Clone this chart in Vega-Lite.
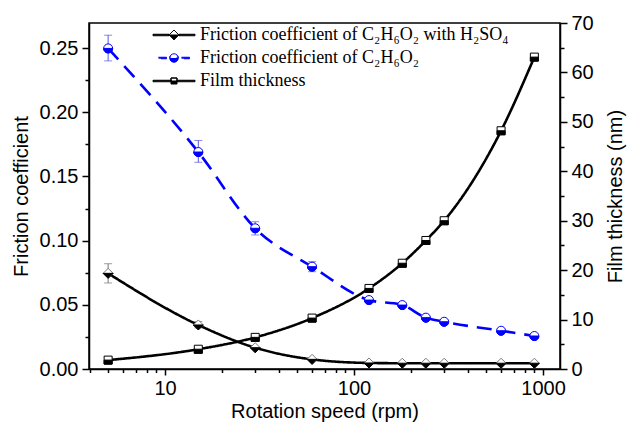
{
  "$schema": "https://vega.github.io/schema/vega-lite/v6.json",
  "width": 471,
  "height": 346,
  "autosize": {"type": "none"},
  "padding": {"left": 89, "top": 23, "right": 71, "bottom": 56},
  "background": "white",
  "config": {
    "view": {"stroke": "black", "strokeWidth": 1.5},
    "axis": {
      "domainColor": "black", "domainWidth": 1.5,
      "tickColor": "black", "tickWidth": 1.5,
      "labelFont": "Liberation Sans", "labelFontSize": 20, "labelColor": "black",
      "titleFont": "Liberation Sans", "titleFontSize": 20, "titleFontWeight": "normal", "titleColor": "black",
      "grid": false, "labelOverlap": false, "labelFlush": false
    }
  },
  "datasets": {
    "fric": [
      {"rpm": 5, "s": "A", "v": 0.0745, "lo": 0.067, "hi": 0.082},
      {"rpm": 15, "s": "A", "v": 0.0343, "lo": 0.032, "hi": 0.037},
      {"rpm": 30, "s": "A", "v": 0.0166},
      {"rpm": 60, "s": "A", "v": 0.0075},
      {"rpm": 120, "s": "A", "v": 0.0047},
      {"rpm": 180, "s": "A", "v": 0.0045},
      {"rpm": 240, "s": "A", "v": 0.0045},
      {"rpm": 300, "s": "A", "v": 0.0045},
      {"rpm": 600, "s": "A", "v": 0.0045},
      {"rpm": 900, "s": "A", "v": 0.0045},
      {"rpm": 5, "s": "B", "v": 0.2497, "lo": 0.240, "hi": 0.260},
      {"rpm": 15, "s": "B", "v": 0.169, "lo": 0.161, "hi": 0.178},
      {"rpm": 30, "s": "B", "v": 0.1096, "lo": 0.1044, "hi": 0.1147},
      {"rpm": 60, "s": "B", "v": 0.0797, "lo": 0.0758, "hi": 0.0836},
      {"rpm": 120, "s": "B", "v": 0.0537},
      {"rpm": 180, "s": "B", "v": 0.0498},
      {"rpm": 240, "s": "B", "v": 0.040},
      {"rpm": 300, "s": "B", "v": 0.0368},
      {"rpm": 600, "s": "B", "v": 0.0298},
      {"rpm": 900, "s": "B", "v": 0.0257}
    ],
    "film": [
      {"rpm": 5, "s": "C", "v": 1.8},
      {"rpm": 15, "s": "C", "v": 4.0},
      {"rpm": 30, "s": "C", "v": 6.4},
      {"rpm": 60, "s": "C", "v": 10.3},
      {"rpm": 120, "s": "C", "v": 16.3},
      {"rpm": 180, "s": "C", "v": 21.4},
      {"rpm": 240, "s": "C", "v": 26.0},
      {"rpm": 300, "s": "C", "v": 30.0},
      {"rpm": 600, "s": "C", "v": 48.2},
      {"rpm": 900, "s": "C", "v": 63.1}
    ]
  },
  "encoding": {
    "x": {
      "field": "rpm", "type": "quantitative",
      "scale": {"type": "log", "domain": [3.96, 1230], "nice": false},
      "axis": {
        "title": "Rotation speed (rpm)",
        "values": [4, 5, 6, 7, 8, 9, 10, 20, 30, 40, 50, 60, 70, 80, 90, 100, 200, 300, 400, 500, 600, 700, 800, 900, 1000],
        "format": "d",
        "labelExpr": "datum.value==10||datum.value==100||datum.value==1000 ? datum.label : ''",
        "tickSize": {"condition": {"test": "datum.value==10||datum.value==100||datum.value==1000", "value": 6}, "value": 3.5},
        "labelPadding": 3,
        "titlePadding": 3
      }
    }
  },
  "layer": [
    {
      "data": {"name": "fric"},
      "encoding": {
        "y": {
          "field": "v", "type": "quantitative",
          "scale": {"domain": [0, 0.2695], "nice": false},
          "axis": {
            "title": "Friction coefficient",
            "values": [0, 0.025, 0.05, 0.075, 0.1, 0.125, 0.15, 0.175, 0.2, 0.225, 0.25],
            "labelExpr": "abs(datum.value*20-round(datum.value*20))<0.001 ? format(datum.value,'.2f') : ''",
            "tickSize": {"condition": {"test": "abs(datum.value*20-round(datum.value*20))<0.001", "value": 7}, "value": 4},
            "labelPadding": 4,
            "titlePadding": 8
          }
        }
      },
      "layer": [
        {
          "transform": [{"filter": "isValid(datum.hi)"}],
          "mark": {"type": "rule", "strokeWidth": 1},
          "encoding": {
            "y": {"field": "lo", "type": "quantitative", "title": "Friction coefficient"},
            "y2": {"field": "hi"},
            "color": {"condition": {"test": "datum.s=='B'", "value": "#5a5ae0"}, "value": "#777777"}
          }
        },
        {
          "transform": [{"filter": "isValid(datum.hi)"}],
          "mark": {"type": "point", "shape": "M-1,0H1", "size": 64, "strokeWidth": 1, "filled": false},
          "encoding": {
            "y": {"field": "hi", "type": "quantitative", "title": "Friction coefficient"},
            "color": {"condition": {"test": "datum.s=='B'", "value": "#5a5ae0"}, "value": "#777777"}
          }
        },
        {
          "transform": [{"filter": "isValid(datum.hi)"}],
          "mark": {"type": "point", "shape": "M-1,0H1", "size": 64, "strokeWidth": 1, "filled": false},
          "encoding": {
            "y": {"field": "lo", "type": "quantitative", "title": "Friction coefficient"},
            "color": {"condition": {"test": "datum.s=='B'", "value": "#5a5ae0"}, "value": "#777777"}
          }
        },
        {
          "mark": {"type": "line", "interpolate": "monotone", "strokeWidth": 2.6},
          "encoding": {
            "color": {
              "field": "s", "type": "nominal",
              "scale": {"domain": ["A", "B", "C"], "range": ["#000000", "#0000ff", "#000000"]},
              "legend": {
                "orient": "none", "legendX": 76, "legendY": 3, "title": null,
                "labelFont": "Liberation Serif", "labelFontSize": 18, "labelColor": "black",
                "labelLimit": 0, "symbolSize": 100, "labelOffset": 17, "rowPadding": 5,
                "labelExpr": "datum.value=='A' ? 'Friction coefficient of C₂H₆O₂ with H₂SO₄' : datum.value=='B' ? 'Friction coefficient of C₂H₆O₂' : 'Film thickness'",
                "encode": {
                  "symbols": {
                    "update": {
                      "shape": {"signal": "datum.value=='A' ? 'M-4.2,-0.15H-1V0.15H-4.2Z M1,-0.15H4.2V0.15H1Z M-1,0L1,0L0,1Z M-1,0L0,-1L1,0L0,-1Z' : datum.value=='B' ? 'M-3.1,-0.15H-1.5V0.15H-3.1Z M1.5,-0.15H3.1V0.15H1.5Z M-0.85,0A0.85,0.85,0,0,0,0.85,0Z M-0.85,0A0.85,0.85,0,0,1,0.85,0A0.85,0.85,0,0,0,-0.85,0' : 'M-4.2,-0.15H-0.6V0.15H-4.2Z M0.6,-0.15H4.2V0.15H0.6Z M-0.6,0H0.6V0.6H-0.6Z M-0.6,0L-0.6,-0.6L0.6,-0.6L0.6,0L0.6,-0.6L-0.6,-0.6Z'"},
                      "fill": {"signal": "datum.value=='B' ? '#0000ff' : '#000000'"},
                      "stroke": {"signal": "datum.value=='B' ? '#0000ff' : '#000000'"},
                      "strokeWidth": {"value": 1},
                      "strokeDash": {"value": []},
                      "opacity": {"value": 1}
                    }
                  }
                }
              }
            },
            "strokeDash": {
              "field": "s", "type": "nominal",
              "scale": {"domain": ["A", "B", "C"], "range": [[1, 0], [15, 9], [1, 0]]},
              "legend": null
            }
          }
        },
        {
          "transform": [{"filter": "datum.s=='A'"}],
          "mark": {"type": "point", "shape": "M0,-1L1,0L0,1L-1,0Z", "size": 100, "filled": true, "fill": "white", "stroke": "#777777", "strokeWidth": 1, "opacity": 1}
        },
        {
          "transform": [{"filter": "datum.s=='A'"}],
          "mark": {"type": "point", "shape": "M-1,0L1,0L0,1Z", "size": 100, "filled": true, "fill": "black", "stroke": "black", "strokeWidth": 1, "opacity": 1}
        },
        {
          "transform": [{"filter": "datum.s=='B'"}],
          "mark": {"type": "point", "shape": "M-1,0A1,1,0,1,1,1,0A1,1,0,1,1,-1,0Z", "size": 81, "filled": true, "fill": "white", "stroke": "#0000ff", "strokeWidth": 1, "opacity": 1}
        },
        {
          "transform": [{"filter": "datum.s=='B'"}],
          "mark": {"type": "point", "shape": "M-1,0A1,1,0,0,0,1,0Z", "size": 81, "filled": true, "fill": "#0000ff", "stroke": "#0000ff", "strokeWidth": 1, "opacity": 1}
        }
      ]
    },
    {
      "data": {"name": "film"},
      "encoding": {
        "y": {
          "field": "v", "type": "quantitative",
          "scale": {"domain": [0, 70], "nice": false},
          "axis": {
            "orient": "right",
            "title": "Film thickness (nm)",
            "values": [0, 5, 10, 15, 20, 25, 30, 35, 40, 45, 50, 55, 60, 65, 70],
            "labelExpr": "datum.value%10==0 ? datum.label : ''",
            "tickSize": {"condition": {"test": "datum.value%10==0", "value": 7}, "value": 4},
            "labelPadding": 4,
            "titleAngle": -90,
            "titleBaseline": "top",
            "titlePadding": 12
          }
        }
      },
      "layer": [
        {
          "mark": {"type": "line", "interpolate": "monotone", "strokeWidth": 2.6},
          "encoding": {
            "color": {"field": "s", "type": "nominal"},
            "strokeDash": {"field": "s", "type": "nominal", "legend": null}
          }
        },
        {
          "mark": {"type": "point", "shape": "M-1,-1H1V1H-1Z", "size": 64, "filled": true, "fill": "white", "stroke": "black", "strokeWidth": 1, "opacity": 1}
        },
        {
          "mark": {"type": "point", "shape": "M-1,0H1V1H-1Z", "size": 64, "filled": true, "fill": "black", "stroke": "black", "strokeWidth": 1, "opacity": 1}
        }
      ]
    }
  ],
  "resolve": {"scale": {"y": "independent"}}
}
